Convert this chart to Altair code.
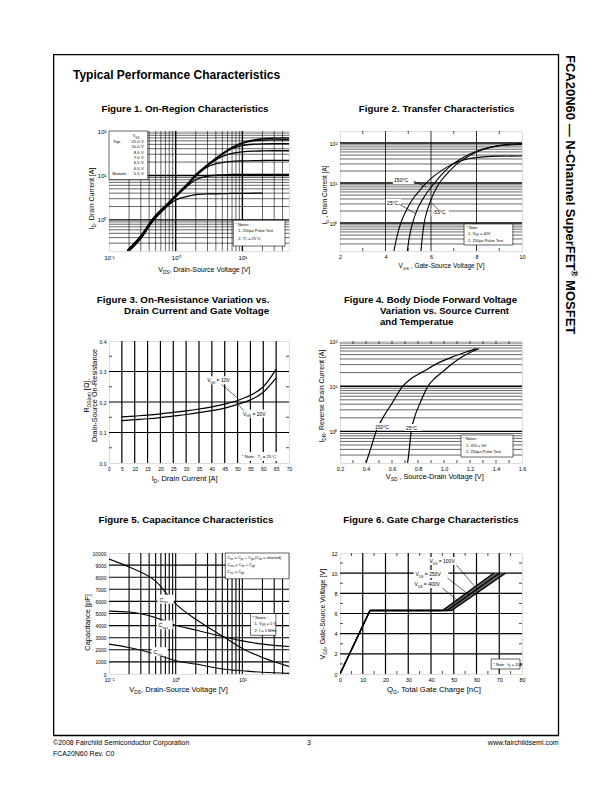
import math
import altair as alt
import pandas as pd

FONT = "Liberation Sans"

# ---------------- data ----------------
# Figure 1: On-region characteristics (log-log)
f1_vds = [0.19, 0.3, 0.45, 0.7, 1.0, 1.5, 2.0, 3.0, 5.0, 7.0, 10, 15, 20, 30, 50]
f1_id_15v = [0.21, 0.44, 1.05, 2.1, 3.6, 6.5, 10.5, 17.5, 31, 43, 55, 63, 67, 69, 70]
f1_id_10v = [0.205, 0.43, 1.03, 2.05, 3.5, 6.4, 10.3, 17.2, 30.5, 42, 53, 60, 62, 63, 63.5]
f1_id_8v = [0.2, 0.42, 1.0, 2.0, 3.45, 6.3, 10.1, 17, 30, 40, 47, 50.5, 51.5, 52, 52]
f1_id_7v = [0.2, 0.41, 0.98, 1.97, 3.4, 6.2, 10, 16.7, 27, 31.5, 34, 35.3, 35.6, 36, 36]
f1_id_6v5 = [0.195, 0.4, 0.96, 1.94, 3.35, 6.1, 9.6, 15.5, 19.5, 20.8, 21.3, 21.6, 21.7, 21.8, 21.8]
f1_id_6v = [0.19, 0.39, 0.94, 1.9, 3.3, 5.8, 8.0, 9.6, 10.3, 10.5, 10.5, 10.6, 10.6, 10.6, 10.6]
f1_id_5v5 = [0.185, 0.38, 0.92, 1.85, 2.8, 3.4, 3.7, 3.85, 3.9, 3.95, 3.95, 4.0, 4.0]
f1_vgs_labels = ["15.0 V", "10.0 V", "8.0 V", "7.0 V", "6.5 V", "6.0 V", "5.5 V"]

# Figure 2: Transfer characteristics
f2_vgs_150 = [4.37, 4.5, 4.67, 4.9, 5.2, 5.5, 5.78, 6.2, 6.7, 7.2, 7.7, 8.3, 9.0, 10]
f2_id_150 = [0.2, 0.45, 1.0, 2.0, 4.0, 6.5, 10, 16, 25, 34, 41, 45, 47, 47.5]
f2_vgs_25 = [4.96, 5.05, 5.19, 5.4, 5.7, 5.95, 6.15, 6.5, 6.9, 7.4, 8.0, 8.6, 9.2, 10]
f2_id_25 = [0.2, 0.45, 1.0, 2.2, 4.5, 7.2, 10, 17, 28, 43, 62, 78, 88, 92]
f2_vgs_m55 = [5.56, 5.62, 5.7, 5.85, 6.05, 6.22, 6.37, 6.7, 7.1, 7.6, 8.0, 8.6, 9.2, 10]
f2_id_m55 = [0.2, 0.45, 1.0, 2.2, 4.5, 7.2, 10, 17, 29, 45, 60, 78, 90, 97]

# Figure 3: On-resistance vs drain current
f3_id = [5, 10, 15, 20, 25, 30, 35, 40, 45, 50, 55, 60, 65]
f3_r_10v = [0.151, 0.154, 0.157, 0.161, 0.166, 0.171, 0.177, 0.184, 0.193, 0.205, 0.222, 0.25, 0.307]
f3_r_20v = [0.139, 0.142, 0.145, 0.149, 0.154, 0.159, 0.165, 0.172, 0.18, 0.192, 0.207, 0.232, 0.279]

# Figure 4: Body diode forward voltage
f4_vsd_150 = [0.40, 0.44, 0.478, 0.53, 0.60, 0.683, 0.76, 0.84, 0.95, 1.07, 1.17, 1.25]
f4_isd_150 = [0.2, 0.45, 1.0, 2.0, 4.2, 10, 15.5, 21, 32, 45, 57, 68]
f4_vsd_25 = [0.72, 0.735, 0.747, 0.77, 0.82, 0.876, 0.93, 0.99, 1.06, 1.14, 1.21, 1.27]
f4_isd_25 = [0.2, 0.45, 1.0, 1.9, 4.5, 10, 15, 21, 31, 45, 57, 68]

# Figure 5: Capacitance
f5_vds = [0.1, 0.2, 0.5, 1, 2, 5, 10, 20, 50]
f5_ciss = [9500, 8850, 7670, 5800, 4520, 3150, 2110, 1370, 630]
f5_coss = [5200, 5120, 4660, 4030, 3640, 3100, 2740, 2470, 2270]
f5_crss = [2470, 2190, 1640, 1100, 820, 410, 270, 140, 50]

# Figure 6: Gate charge
f6_vgs = [0, 6.3, 6.3, 10.0]
f6_qg_100 = [0, 13.2, 45.0, 67.5]
f6_qg_250 = [0, 13.2, 47.0, 70.0]
f6_qg_400 = [0, 13.2, 49.0, 72.7]

# grid / tick values
dec_minor_lo = [0.3, 0.4, 0.5, 0.6, 0.7, 0.8, 0.9]
dec_minor_1 = [2, 3, 4, 5, 6, 7, 8, 9]
dec_minor_10 = [20, 30, 40, 50, 60, 70, 80, 90]
f2_minor_ticks = [3, 5, 7, 9]
f3_minor_ticks = [0.05, 0.15, 0.25, 0.35]
f4_minor_ticks = [0.3, 0.4, 0.5, 0.6, 0.7, 0.8, 0.9, 1.0, 1.1, 1.2, 1.3, 1.4, 1.5]
f6_x_minor_ticks = [5, 15, 25, 35, 45, 55, 65, 75]
f6_y_minor_ticks = [1, 3, 5, 7, 9, 11]

# ---------------- text metrics (Arial / Liberation Sans) ----------------
REG = {c: 556 for c in "0123456789"}
REG.update({' ': 278, '!': 278, '(': 333, ')': 333, '*': 389, '+': 584, ',': 278, '-': 333, '.': 278,
            '/': 278, ':': 278, '=': 584, '[': 278, ']': 278, '°': 400, 'μ': 556, 'Ω': 768,
            '—': 1000, '©': 737, '®': 737})
REG.update(dict(zip("ABCDEFGHIJKLMNOPQRSTUVWXYZ",
                    [667, 667, 722, 722, 667, 611, 778, 722, 278, 500, 667, 556, 833, 722, 778, 667, 778,
                     722, 667, 611, 722, 667, 944, 667, 667, 611])))
REG.update(dict(zip("abcdefghijklmnopqrstuvwxyz",
                    [556, 556, 500, 556, 556, 278, 556, 556, 222, 222, 500, 222, 833, 556, 556, 556, 556,
                     333, 500, 278, 556, 500, 722, 500, 500, 500])))
BOLD = dict(REG)
BOLD.update(dict(zip("ABCDEFGHIJKLMNOPQRSTUVWXYZ",
                     [722, 722, 722, 722, 667, 611, 778, 722, 278, 556, 722, 611, 833, 722, 778, 667, 778,
                      722, 667, 611, 722, 667, 944, 667, 667, 611])))
BOLD.update(dict(zip("abcdefghijklmnopqrstuvwxyz",
                     [556, 611, 556, 611, 556, 333, 611, 611, 278, 278, 556, 278, 889, 611, 611, 611, 611,
                      389, 556, 333, 611, 556, 778, 556, 556, 500])))


def tw(s, size, bold=False):
    t = BOLD if bold else REG
    return sum(t.get(c, 556) for c in s) * size / 1000.0


ONE = pd.DataFrame({"k": [0]})


def txt(t, x, y, size, angle=0, bold=False, align="left"):
    return alt.Chart(ONE).mark_text(
        align=align, baseline="alphabetic", font=FONT, fontSize=round(size, 2),
        fontWeight="bold" if bold else "normal", angle=angle, color="black"
    ).encode(x=alt.value(round(x, 2)), y=alt.value(round(y, 2)), text=alt.value(t))


def parse(s):
    out, buf, i = [], "", 0
    while i < len(s):
        if s[i] in "_^" and i + 1 < len(s) and s[i + 1] == "{":
            if buf:
                out.append((buf, "n"))
                buf = ""
            j = s.index("}", i)
            out.append((s[i + 2:j], "sub" if s[i] == "_" else "sup"))
            i = j + 1
        else:
            buf += s[i]
            i += 1
    if buf:
        out.append((buf, "n"))
    return out


def rich(s, x, y, size, angle=0, align="left", bold=False):
    parts = []
    for t, k in parse(s):
        fs = size if k == "n" else size * 0.65
        parts.append((t, k, fs))
    total = sum(tw(t, fs, bold) for t, k, fs in parts)
    pos = {"left": 0.0, "center": -total / 2.0, "right": -total}[align]
    a = math.radians(angle)
    ax, ay = math.cos(a), math.sin(a)
    px, py = -math.sin(a), math.cos(a)
    out = []
    for t, k, fs in parts:
        lead = len(t) - len(t.lstrip(" "))
        pos += tw(" " * lead, fs, bold)
        core = t.strip(" ")
        off = 0 if k == "n" else (0.3 * size if k == "sub" else -0.42 * size)
        if core:
            out.append(txt(core, x + ax * pos + px * off, y + ay * pos + py * off, fs, angle, bold))
        pos += tw(t.lstrip(" "), fs, bold)
    return out


def box(x0, y0, x1, y1, stroke=True, sw=0.6):
    kw = dict(fill="white")
    if stroke:
        kw.update(stroke="black", strokeWidth=sw)
    return alt.Chart(ONE).mark_rect(**kw).encode(
        x=alt.value(round(x0, 2)), x2=alt.value(round(x1, 2)),
        y=alt.value(round(y0, 2)), y2=alt.value(round(y1, 2)))


def seg(x0, y0, x1, y1, sw=0.6):
    return alt.Chart(ONE).mark_rule(color="black", strokeWidth=sw).encode(
        x=alt.value(round(x0, 2)), y=alt.value(round(y0, 2)),
        x2=alt.value(round(x1, 2)), y2=alt.value(round(y1, 2)))


class Pn:
    def __init__(s, origin, size, ref):
        s.ox, s.oy = origin
        s.W, s.H = size
        s.r = ref

    def m(s, px, py):
        rx0, ry0, rx1, ry1 = s.r
        return (px - rx0) * s.W / (rx1 - rx0), (py - ry0) * s.H / (ry1 - ry0)

    def o(s, px, py):
        return px - s.ox, py - s.oy

    def rich(s, t, px, py, size, angle=0, align="left", bold=False, page=False):
        x, y = (s.o if page else s.m)(px, py)
        return rich(t, x, y, size, angle, align, bold)

    def box(s, x0, y0, x1, y1, stroke=True):
        a, b = s.m(x0, y0)
        c, d = s.m(x1, y1)
        return box(a, b, c, d, stroke)

    def seg(s, x0, y0, x1, y1, sw=0.6):
        a, b = s.m(x0, y0)
        c, d = s.m(x1, y1)
        return seg(a, b, c, d, sw)


LOGLAB = ("datum.value < 0.5 ? '10\u207b\u00b9' : datum.value < 5 ? '10\u2070' : "
          "datum.value < 50 ? '10\u00b9' : '10\u00b2'")


def axis(values, fmt=None, expr=None, size=5.5):
    kw = dict(values=values, ticks=False, domain=False, grid=False, title=None, labelFont=FONT,
              labelFontSize=size, labelColor="black", labelPadding=3, labelOverlap=False,
              labelFlush=False, labelBound=False)
    if fmt:
        kw["format"] = fmt
    if expr:
        kw["labelExpr"] = expr
    return alt.Axis(**kw)


def vgrid(vals, scale, ax, sw):
    return alt.Chart(pd.DataFrame({"v": vals})).mark_rule(color="black", strokeWidth=sw).encode(
        x=alt.X("v:Q", scale=scale, axis=ax))


def hgrid(vals, scale, ax, sw):
    return alt.Chart(pd.DataFrame({"v": vals})).mark_rule(color="black", strokeWidth=sw).encode(
        y=alt.Y("v:Q", scale=scale, axis=ax))


def xticks(vals, scale, ax, H, L=3, sw=0.7):
    d = pd.DataFrame({"v": vals})
    return [alt.Chart(d).mark_rule(color="black", strokeWidth=sw).encode(
                x=alt.X("v:Q", scale=scale, axis=ax), y=alt.value(H), y2=alt.value(H - L)),
            alt.Chart(d).mark_rule(color="black", strokeWidth=sw).encode(
                x=alt.X("v:Q", scale=scale, axis=ax), y=alt.value(0), y2=alt.value(L))]


def yticks(vals, scale, ax, W, L=3, sw=0.7):
    d = pd.DataFrame({"v": vals})
    return [alt.Chart(d).mark_rule(color="black", strokeWidth=sw).encode(
                y=alt.Y("v:Q", scale=scale, axis=ax), x=alt.value(0), x2=alt.value(L)),
            alt.Chart(d).mark_rule(color="black", strokeWidth=sw).encode(
                y=alt.Y("v:Q", scale=scale, axis=ax), x=alt.value(W), x2=alt.value(W - L))]


def curves(series, xs_scale, ys_scale, xaxis, yaxis, sw=1.1, interp="monotone"):
    rows = []
    for name, xs, ys in series:
        for x, y in zip(xs, ys):
            rows.append({"x": x, "y": y, "s": name})
    return alt.Chart(pd.DataFrame(rows)).mark_line(
        color="black", strokeWidth=sw, interpolate=interp, clip=True).encode(
        x=alt.X("x:Q", scale=xs_scale, axis=xaxis),
        y=alt.Y("y:Q", scale=ys_scale, axis=yaxis),
        detail="s:N")


# ---------------- Figure 1 ----------------
P1 = Pn((108, 130), (180, 120), (106, 131, 287, 252))
XS1 = alt.Scale(type="log", domain=[0.1, 50])
YS1 = alt.Scale(type="log", domain=[0.2, 100])
XA1 = axis([0.1, 1, 10], expr=LOGLAB, size=6)
YA1 = axis([1, 10, 100], expr=LOGLAB, size=6)
L1 = [
    vgrid([0.2, 0.3, 0.4, 0.5, 0.6, 0.7, 0.8, 0.9] + dec_minor_1 + [20, 30, 40], XS1, XA1, 0.6),
    vgrid([1, 10], XS1, XA1, 1.4),
    hgrid(dec_minor_lo + dec_minor_1 + dec_minor_10, YS1, YA1, 0.6),
    hgrid([1, 10], YS1, YA1, 1.4),
    P1.box(106, 131, 145, 180),
    P1.box(231, 221, 283, 247),
    curves([(l, f1_vds, ys) for l, ys in zip(f1_vgs_labels, [f1_id_15v, f1_id_10v, f1_id_8v, f1_id_7v,
                                                             f1_id_6v5, f1_id_6v, f1_id_5v5])],
           XS1, YS1, XA1, YA1, sw=1.3),
]
L1 += P1.rich("V_{GS}", 133, 137.5, 4.3, align="center")
L1 += P1.rich("Top :", 110, 143, 4.3)
L1 += P1.rich("Bottom :", 109.5, 175.5, 4.3)
for lab, yy in zip(f1_vgs_labels, [143, 148.5, 154, 159.3, 164.7, 170, 175.5]):
    L1 += P1.rich(lab, 141, yy, 4.3, align="right")
L1 += P1.rich("* Notes :", 233, 226.5, 4)
L1 += P1.rich("1. 250μs Pulse Test", 236, 233, 4)
L1 += P1.rich("2. T_{C} = 25°C", 236, 240.5, 4)
L1 += P1.rich("V_{DS}, Drain-Source Voltage [V]", 202, 273, 7, align="center")
L1 += P1.rich("I_{D}, Drain Current [A]", 90.5, 199, 7, angle=270, align="center")
L1 += P1.rich("Figure 1. On-Region Characteristics", 184, 111, 9.8, align="center", bold=True, page=True)
# page furniture
fx0, fy0 = P1.o(52.65, 53.65)
fx1, fy1 = P1.o(557.5, 734.5)
L1.append(alt.Chart(ONE).mark_rect(fillOpacity=0, stroke="black", strokeWidth=1.3).encode(
    x=alt.value(round(fx0, 2)), x2=alt.value(round(fx1, 2)),
    y=alt.value(round(fy0, 2)), y2=alt.value(round(fy1, 2))))
L1 += P1.rich("Typical Performance Characteristics", 72, 78, 12, bold=True, page=True)
L1 += P1.rich("©2008 Fairchild Semiconductor Corporation", 52, 744, 7, page=True)
L1 += P1.rich("FCA20N60 Rev. C0", 52, 755, 7, page=True)
L1 += P1.rich("3", 308, 744, 7, align="center", page=True)
L1 += P1.rich("www.fairchildsemi.com", 558, 744, 7, align="right", page=True)
L1 += P1.rich("FCA20N60 — N-Channel SuperFET^{®} MOSFET", 565, 54, 13, angle=90, bold=True, page=True)
panel1 = alt.layer(*L1).properties(width=180, height=120)

# ---------------- Figure 2 ----------------
P2 = Pn((339, 130), (182, 120), (345, 128, 524, 248))
XS2 = alt.Scale(domain=[2, 10])
YS2 = alt.Scale(type="log", domain=[0.2, 200])
XA2 = axis([2, 4, 6, 8, 10], size=5.5)
YA2 = axis([1, 10, 100], expr=LOGLAB, size=5.5)
L2 = [
    vgrid([4, 6, 8], XS2, XA2, 0.8),
    hgrid(dec_minor_lo + dec_minor_1 + dec_minor_10, YS2, YA2, 0.6),
    hgrid([1, 10, 100], YS2, YA2, 1.4),
] + xticks(f2_minor_ticks, XS2, XA2, 120) + [
    P2.box(467, 221, 515, 242),
    curves([("150", f2_vgs_150, f2_id_150), ("25", f2_vgs_25, f2_id_25), ("-55", f2_vgs_m55, f2_id_m55)],
           XS2, YS2, XA2, YA2),
    P2.box(397, 173, 418, 181, stroke=False),
    P2.box(390, 196, 405, 204, stroke=False),
    P2.box(435, 205, 452, 213, stroke=False),
    P2.seg(417, 178, 430, 184),
    P2.seg(403, 201, 420, 211),
    P2.seg(435, 200, 442, 207),
]
L2 += P2.rich("150°C", 398, 179, 5.2)
L2 += P2.rich("25°C", 391, 202, 5.2)
L2 += P2.rich("-55°C", 436, 211, 5.2)
L2 += P2.rich("* Note", 469, 226, 4)
L2 += P2.rich("1. V_{DS} = 40V", 471, 232, 4)
L2 += P2.rich("2. 250μs Pulse Test", 471, 238.5, 4)
L2 += P2.rich("V_{GS} , Gate-Source Voltage [V]", 445, 265, 6.5, align="center")
L2 += P2.rich("I_{D} , Drain Current [A]", 332.5, 192, 6.5, angle=270, align="center")
L2 += P2.rich("Figure 2. Transfer Characteristics", 436, 111, 9.8, align="center", bold=True, page=True)
panel2 = alt.layer(*L2).properties(width=182, height=120)

# ---------------- Figure 3 ----------------
P3 = Pn((108, 340), (180, 122), (112, 342, 288, 463))
XS3 = alt.Scale(domain=[0, 70])
YS3 = alt.Scale(domain=[0, 0.4])
XA3 = axis(list(range(0, 75, 5)), size=5)
YA3 = axis([0, 0.1, 0.2, 0.3, 0.4], fmt=".1f", size=5)
L3 = [
    vgrid([5, 10, 15, 20, 25, 30, 35, 40, 45, 50, 55, 60, 65], XS3, XA3, 1.2),
    hgrid([0.1, 0.2, 0.3], YS3, YA3, 1.2),
] + yticks(f3_minor_ticks, YS3, YA3, 180) + [
    P3.box(206, 377, 232, 385, stroke=False),
    P3.box(241, 410, 264, 418, stroke=False),
    P3.box(239, 452, 286, 461, stroke=False),
    curves([("10V", f3_id, f3_r_10v), ("20V", f3_id, f3_r_20v)], XS3, YS3, XA3, YA3, sw=1.2),
    P3.seg(222, 385, 237, 398),
    P3.seg(244, 411, 236, 403),
]
L3 += P3.rich("V_{GS} = 10V", 208, 383, 5)
L3 += P3.rich("V_{GS} = 20V", 243, 416, 5)
L3 += P3.rich("* Note : T_{J} = 25°C", 242, 458, 4.3)
L3 += P3.rich("I_{D}, Drain Current [A]", 186, 481, 7.5, align="center")
L3 += P3.rich("R_{DS(on)} [Ω],", 92, 396, 7.3, angle=270, align="center")
L3 += P3.rich("Drain-Source On-Resistance", 100.5, 396, 7.3, angle=270, align="center")
L3 += P3.rich("Figure 3. On-Resistance Variation vs.", 269, 302, 9.8, align="right", bold=True, page=True)
L3 += P3.rich("Drain Current and Gate Voltage", 269, 313, 9.8, align="right", bold=True, page=True)
panel3 = alt.layer(*L3).properties(width=180, height=122)

# ---------------- Figure 4 ----------------
P4 = Pn((339, 340), (182, 122), (337, 342, 519, 464))
XS4 = alt.Scale(domain=[0.2, 1.6])
YS4 = alt.Scale(type="log", domain=[0.2, 100])
XA4 = axis([0.2, 0.4, 0.6, 0.8, 1.0, 1.2, 1.4, 1.6], fmt=".1f", size=5.5)
YA4 = axis([1, 10, 100], expr=LOGLAB, size=5.5)
L4 = [
    hgrid(dec_minor_lo + dec_minor_1 + dec_minor_10, YS4, YA4, 0.6),
    hgrid([1, 10], YS4, YA4, 1.4),
] + xticks(f4_minor_ticks, XS4, XA4, 122) + [
    P4.box(458, 436, 510, 458),
    curves([("150", f4_vsd_150, f4_isd_150), ("25", f4_vsd_25, f4_isd_25)], XS4, YS4, XA4, YA4, sw=1.2),
    P4.box(371, 424, 389, 431, stroke=False),
    P4.box(402, 425, 418, 432, stroke=False),
]
L4 += P4.rich("150°C", 372, 429.5, 5)
L4 += P4.rich("25°C", 403, 430.5, 5)
L4 += P4.rich("* Notes :", 460, 441, 4)
L4 += P4.rich("1. V_{GS} = 0V", 463, 447.5, 4)
L4 += P4.rich("2. 250μs Pulse Test", 463, 454, 4)
L4 += P4.rich("V_{SD} , Source-Drain Voltage  [V]", 433, 480, 7.3, align="center")
L4 += P4.rich("I_{DR}, Reverse Drain Current [A]", 320.5, 397, 7, angle=270, align="center")
L4 += P4.rich("Figure 4. Body Diode Forward Voltage", 343, 302, 9.6, bold=True, page=True)
L4 += P4.rich("Variation vs. Source Current", 379, 313, 9.6, bold=True, page=True)
L4 += P4.rich("and Temperatue", 379, 324, 9.6, bold=True, page=True)
panel4 = alt.layer(*L4).properties(width=182, height=122)

# ---------------- Figure 5 ----------------
P5 = Pn((108, 552), (180, 121), (110, 550, 288, 672))
XS5 = alt.Scale(type="log", domain=[0.1, 50])
YS5 = alt.Scale(domain=[0, 10000])
XA5 = axis([0.1, 1, 10], expr=LOGLAB, size=5.5)
YA5 = axis(list(range(0, 11000, 1000)), fmt="d", size=5)
L5 = [
    vgrid([0.2, 0.3, 0.4, 0.5, 0.6, 0.7, 0.8, 0.9, 1] + dec_minor_1 + [10, 20, 30, 40], XS5, XA5, 1.1),
    hgrid([1000, 2000, 3000, 4000, 5000, 6000, 7000, 8000, 9000], YS5, YA5, 1.1),
    P5.box(225, 550, 288, 576),
    P5.box(250, 611, 275, 633),
    curves([("Ciss", f5_vds, f5_ciss), ("Coss", f5_vds, f5_coss), ("Crss", f5_vds, f5_crss)],
           XS5, YS5, XA5, YA5),
    P5.box(158, 592, 174, 601, stroke=False),
    P5.box(157, 618, 173, 627, stroke=False),
    P5.box(152, 645, 168, 654, stroke=False),
]
L5 += P5.rich("C_{iss} = C_{gs} + C_{gd} (C_{ds} = shorted)", 227, 556, 4)
L5 += P5.rich("C_{oss} = C_{ds} + C_{gd}", 227, 563, 4)
L5 += P5.rich("C_{rss} = C_{gd}", 227, 570, 4)
L5 += P5.rich("* Notes :", 252, 617, 4)
L5 += P5.rich("1. V_{GS} = 0 V", 254, 623, 4)
L5 += P5.rich("2. f = 1 MHz", 254, 629.5, 4)
L5 += P5.rich("C_{iss}", 160, 599, 5.5)
L5 += P5.rich("C_{oss}", 159, 625, 5.5)
L5 += P5.rich("C_{rss}", 154, 652, 5.5)
L5 += P5.rich("V_{DS}, Drain-Source Voltage [V]", 179, 690, 7.5, align="center")
L5 += P5.rich("Capacitance [pF]", 91, 620, 7.5, angle=270, align="center")
L5 += P5.rich("Figure 5. Capacitance Characteristics", 185, 522, 9.8, align="center", bold=True, page=True)
panel5 = alt.layer(*L5).properties(width=180, height=121)

# ---------------- Figure 6 ----------------
P6 = Pn((339, 552), (182, 121), (336, 551, 519, 672))
XS6 = alt.Scale(domain=[0, 80])
YS6 = alt.Scale(domain=[0, 12])
XA6 = axis(list(range(0, 90, 10)), size=5.5)
YA6 = axis(list(range(0, 14, 2)), size=5.5)
band = pd.DataFrame({"v": f6_vgs[2:], "q1": f6_qg_100[2:], "q2": f6_qg_400[2:]})
L6 = [
    vgrid([10, 20, 30, 40, 50, 60, 70], XS6, XA6, 1.2),
    hgrid([2, 4, 6, 8, 10], YS6, YA6, 1.2),
] + xticks(f6_x_minor_ticks, XS6, XA6, 121) + yticks(f6_y_minor_ticks, YS6, YA6, 182) + [
    P6.box(488, 657, 517, 667),
    alt.Chart(band).mark_area(orient="horizontal", color="#3a3a3a", opacity=0.8).encode(
        y=alt.Y("v:Q", scale=YS6, axis=YA6), x=alt.X("q1:Q", scale=XS6, axis=XA6), x2="q2:Q"),
    curves([("100V", f6_qg_100, f6_vgs), ("250V", f6_qg_250, f6_vgs), ("400V", f6_qg_400, f6_vgs)],
           XS6, YS6, XA6, YA6, sw=1.3, interp="linear"),
    P6.box(424, 555, 455, 563, stroke=False),
    P6.box(410, 568, 445, 576, stroke=False),
    P6.box(409, 578, 441, 586, stroke=False),
    P6.seg(453, 563, 472, 585),
    P6.seg(444, 576, 466, 593),
    P6.seg(439, 586, 456, 600),
]
L6 += P6.rich("V_{DS} = 100V", 426, 561, 5)
L6 += P6.rich("V_{DS} = 250V", 412, 574, 5)
L6 += P6.rich("V_{DS} = 400V", 411, 584, 5)
L6 += P6.rich("* Note : I_{D} = 20A", 490, 664, 4)
L6 += P6.rich("Q_{G}, Total Gate Charge [nC]", 431, 690, 7.8, align="center")
L6 += P6.rich("V_{GS}, Gate-Source Voltage [V]", 320.5, 612, 7, angle=270, align="center")
L6 += P6.rich("Figure 6. Gate Charge Characteristics", 430, 522, 9.8, align="center", bold=True, page=True)
panel6 = alt.layer(*L6).properties(width=182, height=121)

chart = alt.concat(
    panel1, panel2, panel3, panel4, panel5, panel6,
    columns=2, align="each", bounds="flush", spacing={"row": 90, "column": 51},
    padding={"left": 44, "top": 45, "right": 5, "bottom": 5},
).configure_view(stroke="black", strokeWidth=1.2).configure(background="white")

chart.save("out.html", embed_options={"renderer": "svg", "actions": False})
